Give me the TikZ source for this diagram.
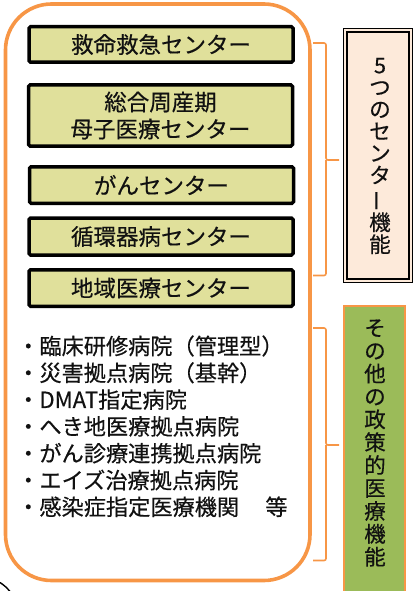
\documentclass[tikz,border=0pt]{standalone}
\usepackage{fontspec}
\usepackage{graphicx}
\setmainfont[FakeBold=0.4]{Noto Sans CJK JP}
\definecolor{orng}{HTML}{F79646}
\definecolor{boxy}{HTML}{E0E09B}
\definecolor{pnk}{HTML}{FDEADA}
\definecolor{grn}{HTML}{9BBB59}
\definecolor{ink}{HTML}{111111}
\newcommand{\vbar}{\rotatebox[origin=c]{90}{ー}}
\begin{document}
\begin{tikzpicture}[x=1pt,y=-1pt,
  cbox/.style={draw=black,line width=3.5pt,fill=boxy,rounded corners=1.5pt,
    minimum width=264pt,inner sep=0pt,align=center,text=ink,
    font=\fontsize{22.5}{27}\selectfont},
  listline/.style={anchor=west,inner sep=0pt,text=ink,font=\fontsize{22.2}{26}\selectfont},
  vtext/.style={align=center,inner sep=0pt,text=ink},
  brace/.style={draw=orng,line width=1.6pt,rounded corners=2pt}]
\useasboundingbox (0,0) rectangle (419,591);
% outer rounded frame
\draw[orng,line width=3.6pt,rounded corners=46pt] (5.5,4) rectangle (310,580.5) ;
% centre boxes
\node[cbox,minimum height=35.5pt] (b1) at (161,44.5) {救命救急センター};
\node[cbox,minimum height=61pt] (b2) at (160.5,115.5) {総合周産期\\母子医療センター};
\node[cbox,minimum height=36.5pt] (b3) at (161.5,185) {がんセンター};
\node[cbox,minimum height=37pt] (b4) at (161,236.5) {循環器病センター};
\node[cbox,minimum height=36.5pt] (b5) at (161,288) {地域医療センター};
% list
\foreach \t [count=\i] in {・臨床研修病院（管理型）,・災害拠点病院（基幹）,・DMAT指定病院,・へき地医療拠点病院,・がん診療連携拠点病院,・エイズ治療拠点病院,・感染症指定医療機関\hspace{4pt}　等}
  \node[listline] (l\i) at (17,{346+26.8*(\i-1)}) {\t};
% braces
\coordinate (t1) at (339,160);
\coordinate (t2) at (339,445);
\draw[brace] (313,43) -- (326,43) -- (326,160) -- (t1);
\draw[brace] (313,275.5) -- (326,275.5) -- (326,160);
\draw[brace] (313,328) -- (326,328) -- (326,445) -- (t2);
\draw[brace] (313,560.5) -- (326,560.5) -- (326,445);
% five-centre box
\node[draw=black,line width=1.3pt,double=pnk,double distance=2pt,fill=pnk,
  minimum width=65.5pt,minimum height=250.5pt,inner sep=0pt] (five) at (378,155.5) {};
\node[vtext,font=\fontsize{21.5}{22}\selectfont] (fivet) at (380,156)
  {5\\つ\\の\\セ\\ン\\タ\\\vbar\\機\\能};
% other policy box
\node[draw=orng,line width=2pt,fill=grn,minimum width=61pt,minimum height=292pt,
  inner sep=0pt,anchor=north] (other) at (374.5,305) {};
\node[vtext,font=\fontsize{21.5}{22.9}\selectfont] (othert) at (375,443)
  {そ\\の\\他\\の\\政\\策\\的\\医\\療\\機\\能};
% black fragment at bottom left
\draw[black,line width=1.4pt] (0,582.5) to[bend left=8] (10,591.5);
\end{tikzpicture}
\end{document}
